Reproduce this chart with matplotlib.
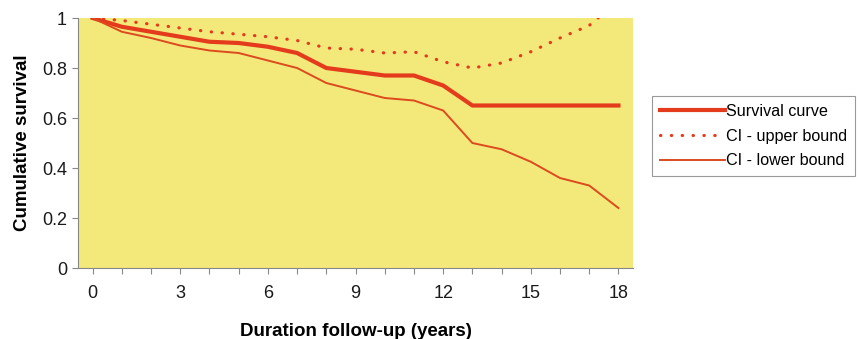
import matplotlib

matplotlib.use("Agg")
import matplotlib.pyplot as plt  # noqa: E402

plt.rcParams["font.family"] = ["Liberation Sans", "DejaVu Sans"]

# --- data ----------------------------------------------------------------
years = [0, 1, 2, 3, 4, 5, 6, 7, 8, 9, 10, 11, 12, 13, 14, 15, 16, 17, 18]
survival = [1.0, 0.965, 0.945, 0.925, 0.905, 0.90, 0.885, 0.86, 0.80, 0.785,
            0.77, 0.77, 0.73, 0.65, 0.65, 0.65, 0.65, 0.65, 0.65]
ci_upper = [1.0, 0.99, 0.975, 0.96, 0.945, 0.935, 0.925, 0.91, 0.88, 0.875,
            0.86, 0.865, 0.825, 0.80, 0.82, 0.865, 0.92, 0.97, 1.07]
ci_lower = [1.0, 0.945, 0.92, 0.89, 0.87, 0.86, 0.83, 0.80, 0.74, 0.71,
            0.68, 0.67, 0.63, 0.50, 0.475, 0.425, 0.36, 0.33, 0.24]
x_ticklabels = [0, 3, 6, 9, 12, 15, 18]
y_ticks = [0, 0.2, 0.4, 0.6, 0.8, 1]

RED = "#e33b1c"
LOWER = "#dc4a1e"
BG = "#f3e87a"

fig = plt.figure(figsize=(8.58, 3.39), dpi=100)
ax = fig.add_axes([0.0909, 0.2094, 0.6469, 0.7375])
ax.set_facecolor(BG)

ax.plot(years, survival, "-", color=RED, lw=3.0, label="Survival curve",
        solid_joinstyle="round")
ax.plot(years, ci_upper, linestyle=(0, (0.1, 3.3)), color=RED, lw=2.3,
        label="CI - upper bound", dash_capstyle="round")
ax.plot(years, ci_lower, "-", color=LOWER, lw=1.4, label="CI - lower bound")

ax.set_xlim(-0.5, 18.5)
ax.set_ylim(0, 1)
ax.set_xticks(range(0, 19))
ax.set_xticklabels([str(t) if t in x_ticklabels else "" for t in range(0, 19)])
ax.set_yticks(y_ticks)
ax.set_yticklabels(["0", "0.2", "0.4", "0.6", "0.8", "1"])
ax.tick_params(labelsize=13, labelcolor="#1a1a1a", color="#888888",
               length=4, width=0.8)
ax.tick_params(axis="x", pad=8)
ax.tick_params(axis="y", pad=4)

for side in ("top", "right"):
    ax.spines[side].set_visible(False)
for side in ("left", "bottom"):
    ax.spines[side].set_color("#888888")
    ax.spines[side].set_linewidth(0.8)

ax.set_xlabel("Duration follow-up (years)", fontsize=13.5, fontweight="bold",
              labelpad=15)
ax.set_ylabel("Cumulative survival", fontsize=13.5, fontweight="bold",
              labelpad=8)

leg = fig.legend(loc="upper left", bbox_to_anchor=(0.76, 0.717),
                 fontsize=11.6, handlelength=4.0, handletextpad=0.1,
                 borderaxespad=0, borderpad=0.5, labelspacing=0.6,
                 fancybox=False, framealpha=1, edgecolor="#999999")
leg.get_frame().set_linewidth(0.8)

fig.savefig("out.png", dpi=100, facecolor="white")
